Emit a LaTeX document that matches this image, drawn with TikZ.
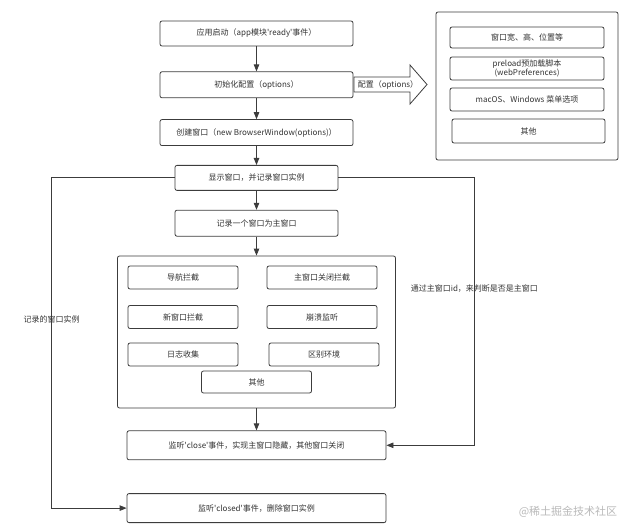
\documentclass[tikz,border=0pt]{standalone}
\usepackage{fontspec}
\setmainfont{Noto Sans CJK SC}
\usetikzlibrary{positioning, arrows.meta}

\definecolor{linegray}{HTML}{3C3C3C}
\definecolor{textgray}{HTML}{333333}
\newcommand{\sq}{\textquotesingle}

\begin{document}
\begin{tikzpicture}[
    x=1pt, y=-1pt,
    flow/.style={
        rectangle,
        rounded corners=2pt,
        draw=linegray,
        line width=0.8pt,
        fill=white,
        text=textgray,
        inner sep=2pt,
        align=center,
        font=\fontsize{8}{10}\selectfont
    },
    item/.style={
        flow,
        minimum width=110pt,
        minimum height=23pt
    },
    opt/.style={
        flow,
        minimum width=154pt,
        minimum height=23pt
    },
    group/.style={
        rectangle,
        rounded corners=2pt,
        draw=linegray,
        line width=0.8pt
    },
    arrow/.style={
        -{Triangle[length=7pt, width=5.5pt]},
        line width=0.8pt,
        draw=linegray
    },
    note/.style={
        text=textgray,
        font=\fontsize{8}{10}\selectfont
    }
]
    \useasboundingbox (0,0) rectangle (628,529);

    % Main flow
    \node[flow, minimum width=193pt, minimum height=25pt] (start) at (256.5,33.5) {应用启动（app模块\sq ready\sq 事件）};
    \node[flow, minimum width=193pt, minimum height=26pt, below=25pt of start] (init) {初始化配置（options）};
    \node[flow, minimum width=193pt, minimum height=26pt, below=21pt of init] (create) {创建窗口（new BrowserWindow(options)）};
    \node[flow, minimum width=163pt, minimum height=25pt, below=19pt of create] (show) {显示窗口，并记录窗口实例};
    \node[flow, minimum width=163pt, minimum height=26pt, below=19pt of show] (master) {记录一个窗口为主窗口};

    % Hooks group
    \node[group, minimum width=278pt, minimum height=152pt, below=19pt of master] (hooks) {};
    \node[item] (nav) at (183,277.5) {导航拦截};
    \node[item] (mainclose) at (322,277.5) {主窗口关闭拦截};
    \node[item] (newwin) at (183,317) {新窗口拦截};
    \node[item] (crash) at (322,317) {崩溃监听};
    \node[item] (log) at (183,354.5) {日志收集};
    \node[item] (env) at (324,354.5) {区别环境};
    \node[item, minimum height=22pt] (other) at (256.5,382) {其他};

    \node[flow, minimum width=259pt, minimum height=29pt, below=22pt of hooks] (close) {监听\sq close\sq 事件，实现主窗口隐藏，其他窗口关闭};
    \node[flow, minimum width=259pt, minimum height=29pt, below=33pt of close] (closed) {监听\sq closed\sq 事件，删除窗口实例};

    % Options group
    \node[group, minimum width=182pt, minimum height=148pt] (cfg) at (527,86) {};
    \node[opt, minimum height=21pt] (size) at (527,37.5) {窗口宽、高、位置等};
    \node[opt, inner sep=0pt, font=\fontsize{8}{9}\selectfont] (preload) at (527,68.5) {preload预加载脚本\\(webPreferences)};
    \node[opt] (menu) at (527,99.5) {macOS、Windows 菜单选项};
    \node[opt, minimum width=153pt, minimum height=24pt] (misc) at (528.5,131) {其他};

    % Block arrow to options
    \draw[linegray, line width=0.8pt, fill=white] (354,77) -- (410,77) -- (410,65) -- (427,84.5)
        -- (410,104) -- (410,92) -- (354,92) -- cycle;
    \node[note] (cfglbl) at (388,84.5) {配置（options）};

    % Arrows
    \draw[arrow] (start) -- (init);
    \draw[arrow] (init) -- (create);
    \draw[arrow] (create) -- (show);
    \draw[arrow] (show) -- (master);
    \draw[arrow] (master) -- (hooks);
    \draw[arrow] (hooks) -- (close);

    % Side loops
    \draw[arrow] (show.west) -- ++(-123,0) |- node[note, pos=0.214] (leftlbl) {记录的窗口实例} (closed.west);
    \draw[arrow] (show.east) -- ++(136,0) |- node[note, pos=0.206] (rightlbl) {通过主窗口id，来判断是否是主窗口} (close.east);

    \node[text=gray!55, font=\fontsize{11}{13}\selectfont] (mark) at (568,512) {@稀土掘金技术社区};
\end{tikzpicture}
\end{document}
